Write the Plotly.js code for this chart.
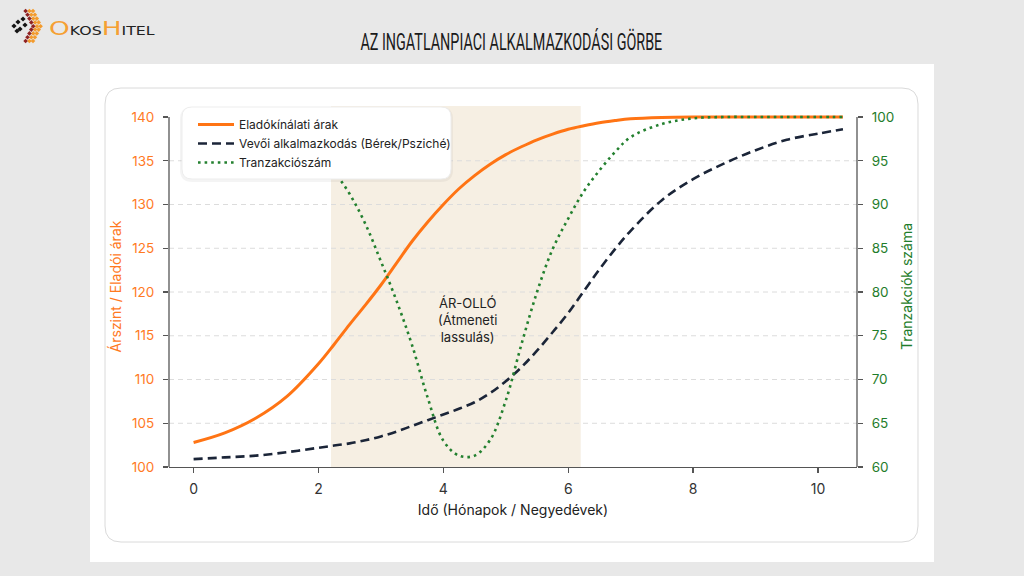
<!DOCTYPE html>
<html>
<head>
<meta charset="utf-8">
<script src="https://cdn.plot.ly/plotly-3.0.1.min.js"></script>
<style>
html,body{margin:0;padding:0;background:#e8e8e8;}
#chart{width:1024px;height:576px;}
</style>
</head>
<body>
<div id="chart"></div>
<script>
// ---------- DATA ----------
const xTime = [0,0.5,1,1.5,2,2.25,2.5,2.75,3,3.25,3.5,3.75,4,4.25,4.5,4.75,5,5.25,5.5,5.75,6,6.25,6.5,6.75,7,7.5,8,8.5,9,9.5,10,10.4];
const sellerPrice = [102.8,103.9,105.6,108.1,111.8,114.0,116.3,118.5,120.8,123.3,125.8,128.0,130.0,131.8,133.3,134.6,135.7,136.6,137.4,138.05,138.6,139.0,139.35,139.6,139.8,139.95,140,140,140,140,140,140];
const buyerAdjust = [100.9,101.1,101.3,101.7,102.2,102.45,102.7,103.05,103.5,104.05,104.7,105.35,106.0,106.65,107.4,108.45,109.8,111.4,113.3,115.4,117.6,120.1,122.6,124.9,127.0,130.5,132.9,134.7,136.2,137.4,138.1,138.6];
const transactions = [100,99.9,99.6,98.7,96.2,93.8,91.2,87.8,83.5,79.0,73.9,67.9,63.0,61.3,61.3,63.1,67.6,74.0,80.0,84.9,88.4,91.5,93.9,96.0,97.7,99.2,99.85,100,100,100,100,100];
const seriesNames = ["Eladókínálati árak","Vevői alkalmazkodás (Bérek/Psziché)","Tranzakciószám"];
const leftTicks = [100,105,110,115,120,125,130,135,140];
const rightTicks = [60,65,70,75,80,85,90,95,100];
const xTicks = [0,2,4,6,8,10];
const shadeSpan = [2.2, 6.2];
const shadeLabel = "ÁR-OLLÓ<br>(Átmeneti<br>lassulás)";
const shadeLabelPos = [4.39, 116.8];
const chartTitle = "AZ INGATLANPIACI ALKALMAZKODÁSI GÖRBE";
const xTitle = "Idő (Hónapok / Negyedévek)";
const yTitle = "Árszint / Eladói árak";
const y2Title = "Tranzakciók száma";

// ---------- LAYOUT HELPERS ----------
const W = 1024, H = 576, PL = 169, PR = 857, PT = 106, PB = 467;
const fx = p => (p - PL) / (PR - PL);
const fy = p => (PB - p) / (PB - PT);
const P = (x, y) => fx(x).toFixed(5) + ',' + fy(y).toFixed(5);
function rrect(x0, y0, x1, y1, r) {
  return 'M' + P(x0 + r, y0) + ' L' + P(x1 - r, y0) + ' Q' + P(x1, y0) + ' ' + P(x1, y0 + r) +
    ' L' + P(x1, y1 - r) + ' Q' + P(x1, y1) + ' ' + P(x1 - r, y1) +
    ' L' + P(x0 + r, y1) + ' Q' + P(x0, y1) + ' ' + P(x0, y1 - r) +
    ' L' + P(x0, y0 + r) + ' Q' + P(x0, y0) + ' ' + P(x0 + r, y0) + ' Z';
}
function diamond(cx, cy, h, color) {
  return {type:'path', xref:'paper', yref:'paper', layer:'above',
    path:'M' + P(cx, cy - h) + ' L' + P(cx + h, cy) + ' L' + P(cx, cy + h) + ' L' + P(cx - h, cy) + ' Z',
    fillcolor: color, line:{width:0}};
}

const ORANGE = '#ff7414', NAVY = '#1b2538', GREEN = '#23802f';
const ORANGE_TXT = '#ff7a1f', GREEN_TXT = '#1f7d2b';
const FONT = 'Inter, "Open Sans", "DejaVu Sans", sans-serif';

const shapes = [];
// page panel
shapes.push({type:'rect', xref:'paper', yref:'paper', layer:'below',
  x0:fx(90), x1:fx(934), y0:fy(562), y1:fy(64), fillcolor:'#ffffff', line:{width:0}});
// rounded card
shapes.push({type:'path', xref:'paper', yref:'paper', layer:'below',
  path: rrect(105, 88, 918, 542, 16), fillcolor:'#ffffff', line:{color:'#dadada', width:1}});
// shaded span
shapes.push({type:'rect', xref:'x', yref:'paper', layer:'below',
  x0:shadeSpan[0], x1:shadeSpan[1], y0:0, y1:1, fillcolor:'#f6efe3', line:{width:0}});
// dashed grid lines
leftTicks.slice(1, -1).forEach(v => shapes.push({type:'line', xref:'paper', yref:'y', layer:'below',
  x0:0, x1:1, y0:v, y1:v, line:{color:'#dcdcdc', width:1, dash:'5px,4px'}}));
// trimmed y spines
shapes.push({type:'line', xref:'paper', yref:'y', x0:0, x1:0,
  y0:leftTicks[0], y1:leftTicks[leftTicks.length - 1], line:{color:'#555555', width:1.3}});
shapes.push({type:'line', xref:'paper', yref:'y2', x0:1, x1:1,
  y0:rightTicks[0], y1:rightTicks[rightTicks.length - 1], line:{color:'#555555', width:1.3}});
// legend box with soft shadow
shapes.push({type:'path', xref:'paper', yref:'paper', layer:'above',
  path: rrect(180, 107, 453, 182, 12), fillcolor:'rgba(0,0,0,0.045)', line:{width:0}});
shapes.push({type:'path', xref:'paper', yref:'paper', layer:'above',
  path: rrect(182, 107, 451, 179, 10), fillcolor:'#ffffff', line:{color:'#ededed', width:1}});
// logo mark: black cluster + red and orange chevrons of small diamonds
[[14,26],[18,22],[20,29],[23,19],[25,25],[17,31]].forEach(c => shapes.push(diamond(c[0], c[1], 2.6, '#141414')));
[[0,'#f39b2d'],[-3.6,'#f39b2d'],[-7.4,'#8f2222']].forEach(arm => {
  const o = arm[0];
  for (let k = 0; k <= 4; k++) {
    shapes.push(diamond(33 + o + 1.9 * k, 11 + 3.8 * k, 2.3, arm[1]));
    if (k < 4) shapes.push(diamond(33 + o + 1.9 * k, 41 - 3.8 * k, 2.3, arm[1]));
  }
});

const annotations = [
  {xref:'x', yref:'y', x:shadeLabelPos[0], y:shadeLabelPos[1], text:shadeLabel, showarrow:false,
    align:'center', font:{family:FONT, size:13, color:'#222222'}},
  {xref:'paper', yref:'paper', x:fx(511), y:fy(42), text:chartTitle, showarrow:false,
    xanchor:'center', yanchor:'middle',
    font:{family:'Roboto, "DejaVu Sans", sans-serif', size:24, weight:400, color:'#1a1a1a'}},
  {xref:'paper', yref:'paper', x:fx(47), y:fy(28), xanchor:'left', yanchor:'middle', showarrow:false,
    text:'<span style="color:#f5a033;font-size:20px">O</span>KOS<span style="color:#f5a033;font-size:20px">H</span>ITEL',
    font:{family:'"DejaVu Sans", sans-serif', size:12, color:'#222222'}}
];

const traces = [
  {x:xTime, y:sellerPrice, name:seriesNames[0], type:'scatter', mode:'lines', yaxis:'y',
    line:{color:ORANGE, width:3, shape:'spline', smoothing:1}},
  {x:xTime, y:buyerAdjust, name:seriesNames[1], type:'scatter', mode:'lines', yaxis:'y',
    line:{color:NAVY, width:2.6, dash:'9px,5px', shape:'spline', smoothing:1}},
  {x:xTime, y:transactions, name:seriesNames[2], type:'scatter', mode:'lines', yaxis:'y2',
    line:{color:GREEN, width:2.6, dash:'2.6px,4px', shape:'spline', smoothing:1}}
];

const layout = {
  width:W, height:H,
  margin:{l:PL, r:W - PR, t:PT, b:H - PB, pad:0},
  paper_bgcolor:'#e8e8e8', plot_bgcolor:'rgba(0,0,0,0)',
  font:{family:FONT, color:'#222222'},
  showlegend:true,
  legend:{x:fx(193), y:fy(110), xanchor:'left', yanchor:'top', bgcolor:'rgba(0,0,0,0)', borderwidth:0,
    font:{family:FONT, size:12, color:'#222222'}, tracegroupgap:0, itemwidth:36},
  xaxis:{range:[-0.394, 10.625], tickvals:xTicks, ticktext:xTicks.map(String),
    showgrid:false, zeroline:false, showline:true, linecolor:'#555555', linewidth:1.3,
    ticks:'outside', ticklen:5, tickwidth:1.2, tickcolor:'#555555', ticklabelstandoff:4,
    tickfont:{family:FONT, size:14, color:'#333333'},
    title:{text:xTitle, standoff:9, font:{family:FONT, size:14, color:'#222222'}}},
  yaxis:{range:[100, 141.26], tickvals:leftTicks, ticktext:leftTicks.map(String),
    showgrid:false, zeroline:false, showline:false,
    ticks:'outside', ticklen:5, tickwidth:1.2, tickcolor:'#555555', ticklabelstandoff:6,
    tickfont:{family:FONT, size:13.5, color:ORANGE_TXT},
    title:{text:yTitle, standoff:6, font:{family:FONT, size:14, color:ORANGE_TXT}}},
  yaxis2:{range:[60, 101.26], overlaying:'y', side:'right', tickvals:rightTicks, ticktext:rightTicks.map(String),
    showgrid:false, zeroline:false, showline:false,
    ticks:'outside', ticklen:5, tickwidth:1.2, tickcolor:'#555555', ticklabelstandoff:6,
    tickfont:{family:FONT, size:13.5, color:GREEN_TXT},
    title:{text:y2Title, standoff:8, font:{family:FONT, size:14, color:GREEN_TXT}}},
  shapes:shapes,
  annotations:annotations
};

// horizontally fit a rendered annotation's text to a target width (condensed / extended lettering)
function fitText(index, targetWidth, anchor) {
  const groups = document.querySelectorAll('#chart .annotation');
  const g = groups[index];
  if (!g) return;
  const t = g.querySelector('text');
  if (!t) return;
  const bb = t.getBBox();
  if (!bb.width) return;
  const s = targetWidth / bb.width;
  const pivot = anchor === 'left' ? bb.x : bb.x + bb.width / 2;
  t.setAttribute('transform', 'translate(' + pivot + ',0) scale(' + s + ',1) translate(' + (-pivot) + ',0)');
}

Plotly.newPlot('chart', traces, layout, {staticPlot:true, displayModeBar:false}).then(() => {
  fitText(1, 302, 'center');
  fitText(2, 106, 'left');
});
</script>
</body>
</html>
